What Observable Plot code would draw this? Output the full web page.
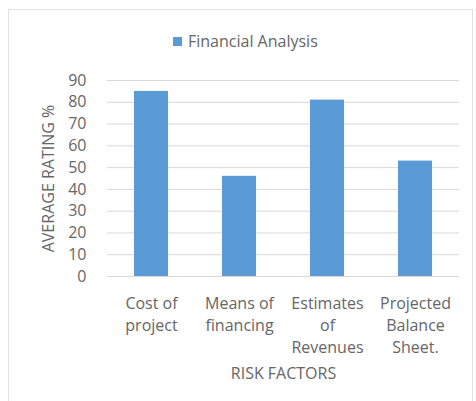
<!DOCTYPE html>
<html>
<head>
<meta charset="utf-8">
<script src="https://cdn.jsdelivr.net/npm/d3@7"></script>
<script src="https://cdn.jsdelivr.net/npm/@observablehq/plot@0.6"></script>
<style>
  html, body { margin: 0; padding: 0; background: #fff; }
  #wrap { position: relative; width: 476px; height: 401px; overflow: hidden; font-family: "Open Sans", Lato, sans-serif; }
  #frame { position: absolute; left: 8px; top: 9px; width: 465px; height: 400px; border: 1.5px solid #e0e0e0; box-sizing: border-box; }
  #legend { position: absolute; left: 173px; top: 30px; font-size: 16px; color: #666; display: flex; align-items: center; white-space: nowrap; }
  #legend .sw { width: 9px; height: 9px; background: #5b9bd5; margin-right: 6px; }
  #chart { position: absolute; left: 0; top: 0; }
</style>
</head>
<body>
<div id="wrap">
  <div id="frame"></div>
  <div id="legend"><span class="sw"></span><span>Financial Analysis</span></div>
  <div id="chart"></div>
</div>
<script>
const categories = ["Cost of project", "Means of financing", "Estimates of Revenues", "Projected Balance Sheet."];
const tickLabels = ["Cost of\nproject", "Means of\nfinancing", "Estimates\nof\nRevenues", "Projected\nBalance\nSheet."];
const values = [85, 46, 81, 53];
const yTicks = [0, 10, 20, 30, 40, 50, 60, 70, 80, 90];
const seriesName = "Financial Analysis";
const xTitle = "RISK FACTORS";
const yTitle = "AVERAGE RATING %";

const data = categories.map((c, i) => ({category: c, value: values[i], series: seriesName}));
const labelOf = new Map(categories.map((c, i) => [c, tickLabels[i]]));

const chart = Plot.plot({
  width: 476,
  height: 401,
  marginLeft: 107,
  marginRight: 17,
  marginTop: 80,
  marginBottom: 125,
  style: {fontFamily: "'Open Sans', Lato, sans-serif", color: "#666", background: "transparent"},
  x: {domain: categories, paddingInner: 0.61, paddingOuter: 0.305},
  y: {domain: [0, 90]},
  marks: [
    Plot.gridY(yTicks, {stroke: "#d9d9d9", strokeOpacity: 1}),
    Plot.barY(data, {x: "category", y: "value", fill: "#5b9bd5"}),
    Plot.axisY(yTicks, {tickSize: 0, tickPadding: 21, fontSize: 16, label: yTitle, labelAnchor: "center", labelArrow: "none", labelOffset: 65}),
    Plot.axisX({tickSize: 0, tickPadding: 17, fontSize: 16, lineHeight: 1.375, tickFormat: d => labelOf.get(d), label: xTitle, labelAnchor: "center", labelArrow: "none", labelOffset: 102})
  ]
});
document.getElementById("chart").appendChild(chart);
</script>
</body>
</html>
